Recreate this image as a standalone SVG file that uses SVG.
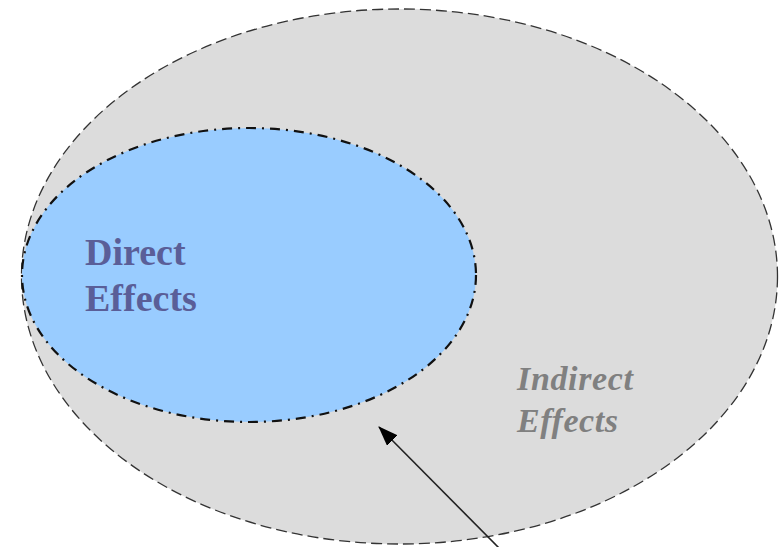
<svg xmlns="http://www.w3.org/2000/svg" width="779" height="547" viewBox="0 0 779 547">
<defs>
<style>
.outer{fill:#dcdcdc;stroke:#333;stroke-width:1.3;stroke-dasharray:11 5}
.inner{fill:#99ccff;stroke:#111;stroke-width:2.2;stroke-dasharray:10 6 2 6}
.dt{font-family:"Liberation Serif",serif;font-weight:bold;font-size:38px;fill:#5a5e98}
.it{font-family:"Liberation Serif",serif;font-weight:bold;font-style:italic;font-size:34px;fill:#808080}
.conn{stroke:#222;stroke-width:1.6;fill:none}
</style>
<marker id="ah" markerWidth="20" markerHeight="15" refX="19" refY="7.5" orient="auto" markerUnits="userSpaceOnUse" viewBox="0 0 20 15">
<path d="M0,0 L20,7.5 L0,15 Z" fill="#000"/>
</marker>
</defs>
<g id="indirect">
<ellipse class="outer" cx="399.5" cy="276.5" rx="378" ry="267.5"/>
<text class="it" x="517" y="390" textLength="116">Indirect</text>
<text class="it" x="517" y="432" textLength="101">Effects</text>
</g>
<g id="direct">
<ellipse class="inner" cx="249" cy="275" rx="227" ry="147"/>
<text class="dt" x="85" y="265">Direct</text>
<text class="dt" x="85" y="311">Effects</text>
</g>
<g id="connectors">
<line class="conn" x1="499" y1="548" x2="379" y2="427" marker-end="url(#ah)"/>
</g>
</svg>
